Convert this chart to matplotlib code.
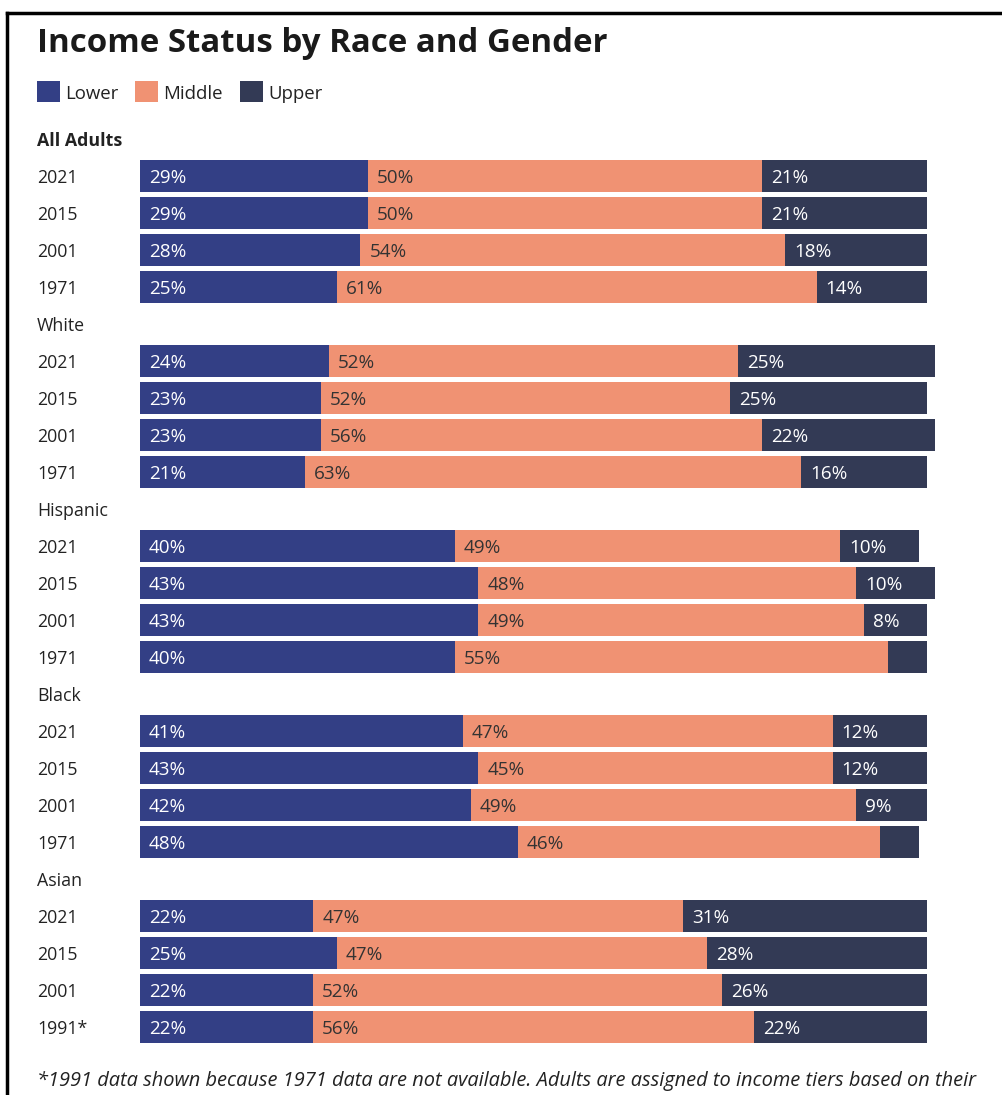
import matplotlib.pyplot as plt
from matplotlib.patches import Rectangle
from matplotlib.lines import Line2D

plt.rcParams['font.family'] = ['Open Sans', 'DejaVu Sans']

# data
groups = ['All Adults', 'White', 'Hispanic', 'Black', 'Asian']
years = [
    ['2021', '2015', '2001', '1971'],
    ['2021', '2015', '2001', '1971'],
    ['2021', '2015', '2001', '1971'],
    ['2021', '2015', '2001', '1971'],
    ['2021', '2015', '2001', '1991*'],
]
lower = [
    [29, 29, 28, 25],
    [24, 23, 23, 21],
    [40, 43, 43, 40],
    [41, 43, 42, 48],
    [22, 25, 22, 22],
]
middle = [
    [50, 50, 54, 61],
    [52, 52, 56, 63],
    [49, 48, 49, 55],
    [47, 45, 49, 46],
    [47, 47, 52, 56],
]
upper = [
    [21, 21, 18, 14],
    [25, 25, 22, 16],
    [10, 10, 8, 5],
    [12, 12, 9, 5],
    [31, 28, 26, 22],
]
tiers = ['Lower', 'Middle', 'Upper']
colors = ['#333F85', '#F09273', '#333A55']
text_colors = ['white', '#333333', 'white']

title = 'Income Status by Race and Gender'
footnote = ('*1991 data shown because 1971 data are not available. '
            'Adults are assigned to income tiers based on their')

W, H = 1003, 1095
fig = plt.figure(figsize=(W / 100, H / 100), dpi=100)
ax = fig.add_axes([0, 0, 1, 1])

# pixel layout: x=0% at 140px, 7.87px per percent; rows 37px apart from 139px
px_per = 7.87
x0 = 140
ax.set_xlim(-x0 / px_per, (W - x0) / px_per)
ax.set_ylim((H - 139) / 37, -139 / 37)
ax.axis('off')

label_x = -(x0 - 37) / px_per
pad = 9 / px_per
fs = 12.8
dy = 0.06

row = 0
for g, name in enumerate(groups):
    weight = 'bold' if g == 0 else 'normal'
    ax.text(label_x, row + dy, name, fontsize=fs, fontweight=weight,
            color='#222222', va='center', ha='left')
    row += 1
    for i, yr in enumerate(years[g]):
        ax.text(label_x, row + dy, yr, fontsize=fs, color='#222222',
                va='center', ha='left')
        left = 0
        vals = [lower[g][i], middle[g][i], upper[g][i]]
        for k, v in enumerate(vals):
            ax.barh(row, v, left=left, height=0.84, color=colors[k],
                    edgecolor='none')
            if v > 5:
                ax.text(left + pad, row + dy, f'{v}%', fontsize=13.6,
                        color=text_colors[k], va='center', ha='left')
            left += v
        row += 1

# title
fig.text(37 / W, 1 - 44 / H, title, fontsize=23.8, fontweight='bold',
         color='#1a1a1a', va='center', ha='left')

# legend
leg_x = [37, 135, 240]
for k, name in enumerate(tiers):
    fig.patches.append(Rectangle((leg_x[k] / W, 1 - 102 / H), 23 / W, 21 / H,
                                 transform=fig.transFigure,
                                 facecolor=colors[k], edgecolor='none'))
    fig.text((leg_x[k] + 28) / W, 1 - 94 / H, name, fontsize=13.4,
             color='#222222', va='center', ha='left')

# footnote
fig.text(37 / W, 1 - 1081 / H, footnote, fontsize=14.4, style='italic',
         color='#222222', va='center', ha='left')

# frame lines on top and left
fig.add_artist(Line2D([7 / W, 1], [1 - 13 / H, 1 - 13 / H], color='black',
                      linewidth=2.5, transform=fig.transFigure))
fig.add_artist(Line2D([7 / W, 7 / W], [0, 1 - 13 / H], color='black',
                      linewidth=2.5, transform=fig.transFigure))

fig.savefig('out.png', dpi=100)
